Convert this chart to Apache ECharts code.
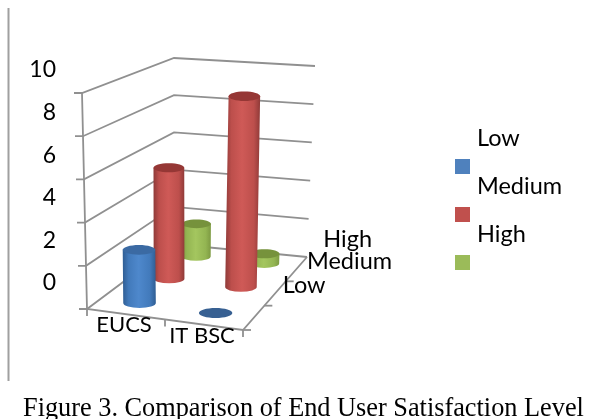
<!DOCTYPE html>
<html>
<head>
<meta charset="utf-8">
<script src="https://cdn.jsdelivr.net/npm/echarts@6/dist/echarts.min.js"></script>
<style>
  html, body { margin: 0; padding: 0; background: #fff; }
  #chart { width: 590px; height: 419px; }
</style>
</head>
<body>
<div id="chart"></div>
<script>
const categories = ["EUCS", "IT BSC"];
const levels = ["Low", "Medium", "High"];
const lowValues = [2.5, 0];
const mediumValues = [5.5, 9.3];
const highValues = [1.7, 0.5];
const tickValues = [0, 2, 4, 6, 8, 10];

const yMax = 10;
const labelFont = "Lato";
const gridBox = { left: 60, top: 70, width: 200, height: 213 };

// corners of the 3D box on screen, floor then top, [front-left, front-right, back-left, back-right]
const floor = [[87, 309], [243, 330], [174, 244], [307, 257]];
const roof = [[82, 93], [246, 105], [174, 58], [315, 66]];

const mix = (a, b, t) => a + (b - a) * t;
const bilinear = (c, u, v) => [
  mix(mix(c[0][0], c[1][0], u), mix(c[2][0], c[3][0], u), v),
  mix(mix(c[0][1], c[1][1], u), mix(c[2][1], c[3][1], u), v),
];
// u along categories, v into the depth, h height from 0 to 1
const project = (u, v, h) => {
  const a = bilinear(floor, u, v);
  const b = bilinear(roof, u, v);
  return [mix(a[0], b[0], h), mix(a[1], b[1], h)];
};
const levelDepth = (i) => (i + 0.5) / levels.length;

const toBox = (api, cat, value) => {
  const p = api.coord([cat, value]);
  return {
    u: (p[0] - gridBox.left) / gridBox.width,
    h: (gridBox.top + gridBox.height - p[1]) / gridBox.height,
  };
};

const cylinderSeries = (name, levelIndex, values, colors) => ({
  name,
  type: "custom",
  coordinateSystem: "cartesian2d",
  itemStyle: { color: colors.swatch },
  data: values.map((v, i) => [i, v]),
  renderItem: (params, api) => {
    // the rows further back sit a little deeper than an even split
    const v = levelDepth(levelIndex) + (levelIndex > 0 ? 0.03 : 0);
    const box = toBox(api, api.value(0), api.value(1));
    const base = project(box.u, v, 0);
    const top = project(box.u, v, box.h);
    const rx = 16.5 - 2.5 * v + 0.8 * box.u;
    const ry = rx * 0.3;
    const children = [];
    if (box.h > 0) {
      children.push({
        type: "path",
        shape: {
          pathData:
            `M${base[0] - rx} ${base[1]} A${rx} ${ry} 0 0 0 ${base[0] + rx} ${base[1]} ` +
            `L${top[0] + rx} ${top[1]} L${top[0] - rx} ${top[1]} Z`,
        },
        style: {
          fill: new echarts.graphic.LinearGradient(0, 0, 1, 0, [
            { offset: 0, color: colors.edge },
            { offset: 0.18, color: colors.base },
            { offset: 0.48, color: colors.light },
            { offset: 0.82, color: colors.base },
            { offset: 1, color: colors.edge },
          ]),
        },
      });
    }
    children.push({
      type: "ellipse",
      shape: { cx: top[0], cy: top[1], rx, ry },
      style: { fill: box.h > 0 ? colors.cap : colors.disc },
    });
    return { type: "group", children };
  },
});

const lineStyle = { stroke: "#909090", lineWidth: 1.8, fill: null };

// back wall and side wall lines with their ticks
const frameSeries = {
  name: "frame",
  type: "custom",
  coordinateSystem: "cartesian2d",
  silent: true,
  data: tickValues.map((t) => [0, t]),
  renderItem: (params, api) => {
    const h = toBox(api, 0, api.value(1)).h;
    const front = project(0, 0, h);
    const back = project(0, 1, h);
    const right = project(1, 1, h);
    return {
      type: "polyline",
      shape: { points: [[front[0] - 8, front[1]], front, back, right] },
      style: lineStyle,
    };
  },
};

const floorSeries = {
  name: "floor",
  type: "custom",
  coordinateSystem: "cartesian2d",
  silent: true,
  data: [[0, 0]],
  renderItem: () => {
    const children = [
      { type: "polyline", shape: { points: [project(0, 0, 1), project(0, 0, 0), project(1, 0, 0), project(1, 1, 0)] }, style: lineStyle },
    ];
    [0, 0.5, 1].forEach((u) => {
      const p = project(u, 0, 0);
      children.push({ type: "line", shape: { x1: p[0], y1: p[1], x2: p[0], y2: p[1] + 7 }, style: lineStyle });
    });
    levels.forEach((_, i) => {
      const p = project(1, i / levels.length, 0);
      children.push({ type: "line", shape: { x1: p[0], y1: p[1], x2: p[0] + 8, y2: p[1] }, style: lineStyle });
    });
    return { type: "group", children };
  },
};

// category names under the floor and level names along its right edge
const labelSeries = {
  name: "labels",
  type: "custom",
  coordinateSystem: "cartesian2d",
  silent: true,
  z: 5,
  data: [[0, 0]],
  renderItem: () => {
    const children = [];
    categories.forEach((c, i) => {
      const p = project((i + 0.5) / categories.length, 0, 0);
      children.push({
        type: "text",
        style: { text: c, x: p[0] - 2, y: p[1] + 11, align: "center", verticalAlign: "middle", fill: "#000", font: `22px ${labelFont}` },
      });
    });
    const nudgeX = [29, 32, 27];
    const nudgeY = [-32, -32, -30];
    levels.forEach((l, i) => {
      const p = project(1, levelDepth(i), 0);
      children.push({
        type: "text",
        style: { text: l, x: p[0] + nudgeX[i], y: p[1] + nudgeY[i], align: "left", verticalAlign: "middle", fill: "#000", font: `23.5px ${labelFont}` },
      });
    });
    return { type: "group", children };
  },
};

const chart = echarts.init(document.getElementById("chart"), null, { renderer: "canvas" });
chart.setOption({
  animation: false,
  backgroundColor: "#fff",
  title: {
    text: "Figure 3. Comparison of End User Satisfaction Level",
    left: 23,
    top: 396,
    padding: 0,
    textStyle: { fontFamily: "Liberation Serif", fontSize: 26.3, fontWeight: "normal", color: "#000" },
  },
  legend: {
    data: levels,
    orient: "vertical",
    left: 455,
    top: 109.5,
    padding: 0,
    icon: "rect",
    itemWidth: 15,
    itemHeight: 15,
    itemGap: -66,
    selectedMode: false,
    // label sits above its swatch, second line left empty
    formatter: (name) => `{t|${name}}\n{t| }`,
    textStyle: {
      fontFamily: labelFont,
      fontSize: 23.5,
      color: "#000",
      lineHeight: 57,
      rich: { t: { fontFamily: labelFont, fontSize: 23.5, color: "#000", lineHeight: 57, padding: [0, 0, 0, 2] } },
    },
  },
  grid: gridBox,
  xAxis: { type: "category", data: categories, show: false },
  yAxis: {
    type: "value",
    min: 0,
    max: yMax,
    interval: 2,
    axisLine: { show: false },
    axisTick: { show: false },
    splitLine: { show: false },
    axisLabel: { color: "#000", fontFamily: labelFont, fontSize: 23, margin: 4 },
  },
  graphic: [
    {
      type: "line",
      shape: { x1: 8.5, y1: 8, x2: 8.5, y2: 381 },
      style: { stroke: "#a0a0a0", lineWidth: 2 },
    },
  ],
  series: [
    frameSeries,
    floorSeries,
    cylinderSeries("High", 2, highValues, { swatch: "#9BBB59", base: "#93b552", light: "#a4c65f", edge: "#7d9a42", cap: "#76923C", disc: "#76923C" }),
    cylinderSeries("Medium", 1, mediumValues, { swatch: "#C0504D", base: "#bd4f4c", light: "#cf5a57", edge: "#8f3a38", cap: "#953735", disc: "#953735" }),
    cylinderSeries("Low", 0, lowValues, { swatch: "#4F81BD", base: "#427abb", light: "#4e88cc", edge: "#2f5d93", cap: "#3b6aa3", disc: "#376092" }),
    labelSeries,
  ],
});
</script>
</body>
</html>
